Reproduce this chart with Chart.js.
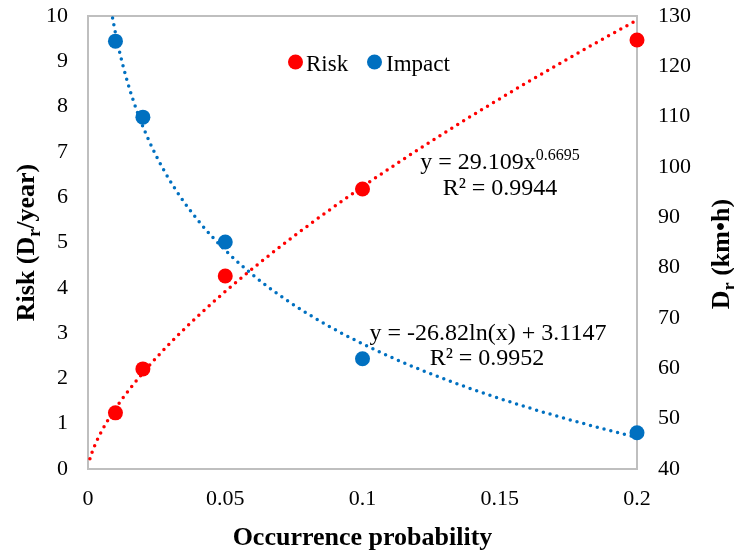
<!DOCTYPE html>
<html>
<head>
<meta charset="utf-8">
<script src="https://cdn.jsdelivr.net/npm/chart.js@4.4.1/dist/chart.umd.min.js"></script>
<style>
  body { margin: 0; background: #fff; }
  canvas { display: block; }
</style>
</head>
<body>
<canvas id="myChart" width="734" height="558"></canvas>
<script>
// datos
const probabilities = [0.01, 0.02, 0.05, 0.1, 0.2];
const riskValues = [1.24, 2.21, 4.26, 6.18, 9.47];
const impactValues = [125.0, 109.9, 85.1, 61.9, 47.2];
const xTickLabels = ['0', '0.05', '0.1', '0.15', '0.2'];
// coeficientes de las lineas de tendencia (de las ecuaciones del grafico)
const riskFit = [29.109, 0.6695];   // y = a * x^b
const impactFit = [-26.82, 3.1147]; // y = a * ln(x) + b
const riskR2 = '0.9944';
const impactR2 = '0.9952';

const serif = "'Liberation Serif', 'Times New Roman', serif";
const red = '#FF0000';
const blue = '#0070C0';

// dibuja texto con subindices / superindices
function richText(ctx, parts, x, y, size, bold) {
  const w = bold ? 'bold ' : '';
  let total = 0;
  parts.forEach(p => {
    ctx.font = w + (p.sub || p.sup ? Math.round(size * 0.68) : size) + 'px ' + serif;
    p.w = ctx.measureText(p.t).width;
    total += p.w;
  });
  let cx = x - total / 2;
  ctx.textAlign = 'left';
  ctx.textBaseline = 'alphabetic';
  parts.forEach(p => {
    ctx.font = w + (p.sub || p.sup ? Math.round(size * 0.68) : size) + 'px ' + serif;
    let dy = p.sub ? size * 0.22 : (p.sup ? -size * 0.38 : 0);
    ctx.fillText(p.t, cx, y + dy);
    cx += p.w;
  });
}

const extras = {
  id: 'extras',
  beforeDatasetsDraw(chart) {
    const ctx = chart.ctx;
    const a = chart.chartArea;
    const xs = chart.scales.x, ys = chart.scales.y, ys1 = chart.scales.y1;

    // marco gris
    ctx.save();
    ctx.strokeStyle = '#BFBFBF';
    ctx.lineWidth = 2;
    ctx.strokeRect(a.left, a.top, a.right - a.left, a.bottom - a.top);
    ctx.restore();

    // lineas de tendencia punteadas
    function trend(fn, scale, x0, color) {
      ctx.save();
      ctx.beginPath();
      ctx.rect(a.left - 2, a.top - 2, a.right - a.left + 4, a.bottom - a.top + 4);
      ctx.clip();
      ctx.beginPath();
      const n = 300;
      for (let i = 0; i <= n; i++) {
        const xv = x0 + (0.2 - x0) * i / n;
        const px = xs.getPixelForValue(xv);
        const py = scale.getPixelForValue(fn(xv));
        if (i == 0) ctx.moveTo(px, py); else ctx.lineTo(px, py);
      }
      ctx.strokeStyle = color;
      ctx.lineWidth = 3.5;
      ctx.lineCap = 'round';
      ctx.setLineDash([0, 7]);
      ctx.stroke();
      ctx.restore();
    }
    trend(x => riskFit[0] * Math.pow(x, riskFit[1]), ys, 0.0007, red);
    trend(x => impactFit[0] * Math.log(x) + impactFit[1], ys1, 0.0085, blue);
  },
  afterDraw(chart) {
    const ctx = chart.ctx;
    const a = chart.chartArea;
    ctx.save();
    ctx.fillStyle = '#000';

    // leyenda
    ctx.beginPath(); ctx.fillStyle = red; ctx.arc(295.5, 62, 7.5, 0, Math.PI * 2); ctx.fill();
    ctx.beginPath(); ctx.fillStyle = blue; ctx.arc(374.5, 62, 7.5, 0, Math.PI * 2); ctx.fill();
    ctx.fillStyle = '#000';
    ctx.font = '23px ' + serif;
    ctx.textAlign = 'left';
    ctx.textBaseline = 'alphabetic';
    ctx.fillText('Risk', 306, 71);
    ctx.fillText('Impact', 386, 71);

    // ecuaciones
    richText(ctx, [{t: 'y = ' + riskFit[0] + 'x'}, {t: String(riskFit[1]), sup: true}], 500, 169, 24);
    richText(ctx, [{t: 'R² = ' + riskR2}], 500, 195, 24);
    richText(ctx, [{t: 'y = ' + impactFit[0] + 'ln(x) + ' + impactFit[1]}], 488, 340, 24);
    richText(ctx, [{t: 'R² = ' + impactR2}], 487, 365, 24);

    // titulos de ejes
    richText(ctx, [{t: 'Occurrence probability'}], (a.left + a.right) / 2, 545, 26, true);

    ctx.save();
    ctx.translate(34, (a.top + a.bottom) / 2);
    ctx.rotate(-Math.PI / 2);
    richText(ctx, [{t: 'Risk (D'}, {t: 'r', sub: true}, {t: '/year)'}], 0, 0, 26, true);
    ctx.restore();

    ctx.save();
    ctx.translate(729, 254);
    ctx.rotate(-Math.PI / 2);
    richText(ctx, [{t: 'D'}, {t: 'r', sub: true}, {t: ' (km•h)'}], 0, 0, 26, true);
    ctx.restore();

    ctx.restore();
  }
};

const tickFont = { family: serif, size: 22 };

// fija el tamaño de cada eje para que el area del grafico quede como en la imagen
function fixWidth(w) {
  return s => { s.width = w; s.paddingTop = 0; s.paddingBottom = 0; };
}

const ctx = document.getElementById('myChart').getContext('2d');
const myChart = new Chart(ctx, {
  type: 'scatter',
  data: {
    datasets: [
      {
        label: 'Risk',
        data: probabilities.map((x, i) => ({ x: x, y: riskValues[i] })),
        yAxisID: 'y',
        backgroundColor: red,
        borderWidth: 0,
        pointRadius: 7.5,
        clip: false,
      },
      {
        label: 'Impact',
        data: probabilities.map((x, i) => ({ x: x, y: impactValues[i] })),
        yAxisID: 'y1',
        backgroundColor: blue,
        borderWidth: 0,
        pointRadius: 7.5,
        clip: false,
      },
    ],
  },
  options: {
    responsive: false,
    animation: false,
    layout: { padding: { top: 16, left: 0, right: 0, bottom: 0 } },
    plugins: {
      legend: { display: false },
      tooltip: { enabled: false },
    },
    scales: {
      x: {
        type: 'linear',
        min: 0,
        max: 0.2,
        grid: { display: false, drawTicks: false },
        border: { display: false },
        ticks: {
          stepSize: 0.05,
          padding: 17,
          color: '#000',
          font: tickFont,
          callback: (v, i) => xTickLabels[i],
        },
        afterFit: s => { s.height = 89; s.paddingLeft = 0; s.paddingRight = 0; },
      },
      y: {
        position: 'left',
        min: 0,
        max: 10,
        grid: { display: false, drawTicks: false },
        border: { display: false },
        ticks: { stepSize: 1, padding: 20, color: '#000', font: tickFont },
        afterFit: fixWidth(88),
      },
      y1: {
        position: 'right',
        min: 40,
        max: 130,
        grid: { display: false, drawTicks: false },
        border: { display: false },
        ticks: { stepSize: 10, padding: 21, color: '#000', font: tickFont },
        afterFit: fixWidth(97),
      },
    },
  },
  plugins: [extras],
});
</script>
</body>
</html>
